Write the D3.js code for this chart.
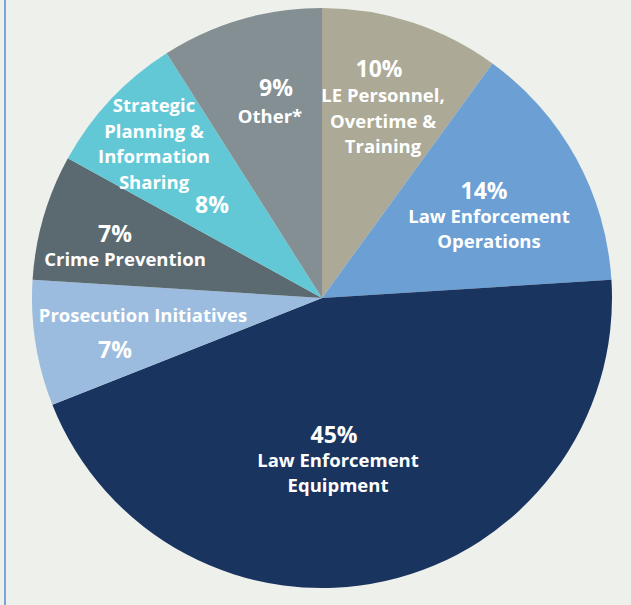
<!DOCTYPE html>
<html>
<head>
<meta charset="utf-8">
<script src="https://cdn.jsdelivr.net/npm/d3@7"></script>
<style>
  html, body { margin: 0; padding: 0; background: #eef0eb; }
  svg { display: block; }
</style>
</head>
<body>
<svg id="chart"></svg>
<script>
// Canvas size
var w = 631;
var h = 605;

// Slice data, clockwise from 12 o'clock
var categories = [
    "LE Personnel,\nOvertime &\nTraining",
    "Law Enforcement\nOperations",
    "Law Enforcement\nEquipment",
    "Prosecution Initiatives",
    "Crime Prevention",
    "Strategic\nPlanning &\nInformation\nSharing",
    "Other*"
];
var values = [10, 14, 45, 7, 7, 8, 9];
var colors = ["#aca996", "#6c9fd4", "#1a3460", "#9bbcde", "#5b6a71", "#63c8d6", "#848f93"];

// Label placement relative to pie center: where the percent goes and where the name block starts
var labelLayout = [
    { pct: [57, -221], name: [61, -196], lineH: 25.5 },
    { pct: [162, -99], name: [167, -75], lineH: 25 },
    { pct: [12, 145], name: [16, 169], lineH: 24.5 },
    { pct: [-207, 60], name: [-179, 24], lineH: 25 },
    { pct: [-207, -56], name: [-197, -32], lineH: 25 },
    { pct: [-110, -85], name: [-168, -186], lineH: 25.7 },
    { pct: [-46, -202], name: [-52, -175], lineH: 25 }
];

var cx = 322, cy = 298, radius = 290;

var svg = d3.select("#chart")
    .attr("width", w)
    .attr("height", h);

// background
svg.append("rect")
    .attr("width", w)
    .attr("height", h)
    .attr("fill", "#eef0eb");

// thin blue rule on the left
svg.append("line")
    .attr("x1", 5).attr("x2", 5)
    .attr("y1", 0).attr("y2", h)
    .attr("stroke", "#7aa5da")
    .attr("stroke-width", 2);

var g = svg.append("g")
    .attr("transform", "translate(" + cx + "," + cy + ")");

var pie = d3.pie().sort(null).value(function (d) { return d; });
var arc = d3.arc().innerRadius(0).outerRadius(radius);

var arcs = pie(values);

g.selectAll("path.slice")
    .data(arcs)
    .enter().append("path")
    .attr("class", "slice")
    .attr("d", arc)
    .attr("fill", function (d, i) { return colors[i]; });

// labels
var font = "'Open Sans', sans-serif";

arcs.forEach(function (d, i) {
    var lay = labelLayout[i];

    g.append("text")
        .attr("x", lay.pct[0])
        .attr("y", lay.pct[1])
        .attr("text-anchor", "middle")
        .attr("font-family", font)
        .attr("font-weight", 700)
        .attr("font-size", "23px")
        .attr("fill", "#ffffff")
        .text(values[i] + "%");

    var lines = categories[i].split("\n");
    var t = g.append("text")
        .attr("text-anchor", "middle")
        .attr("font-family", font)
        .attr("font-weight", 700)
        .attr("font-size", "18.5px")
        .attr("fill", "#ffffff");
    lines.forEach(function (line, j) {
        t.append("tspan")
            .attr("x", lay.name[0])
            .attr("y", lay.name[1] + j * lay.lineH)
            .text(line);
    });
});
</script>
</body>
</html>
